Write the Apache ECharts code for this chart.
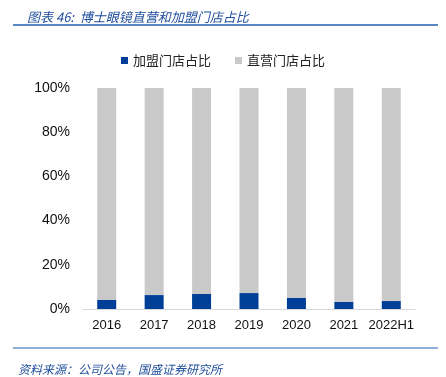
<!DOCTYPE html>
<html>
<head>
<meta charset="utf-8">
<script src="https://cdn.jsdelivr.net/npm/echarts@6/dist/echarts.min.js"></script>
<style>
  html, body { margin: 0; padding: 0; background: #fff; }
  #chart { width: 446px; height: 377px; }
</style>
</head>
<body>
<div id="chart"></div>
<script>
const categories = ["2016", "2017", "2018", "2019", "2020", "2021", "2022H1"];
// 加盟门店占比 (%)
const franchise = [4.2, 6.3, 6.8, 7.2, 5.1, 3.3, 3.6];
// 直营门店占比 = 100 - 加盟
const direct = [95.8, 93.7, 93.2, 92.8, 94.9, 96.7, 96.4];
const yTicks = [0, 20, 40, 60, 80, 100];

const chart = echarts.init(document.getElementById("chart"));
const cjk = "'Noto Sans CJK SC', sans-serif";

chart.setOption({
  animation: false,
  title: [
    {
      text: "图表 46:  博士眼镜直营和加盟门店占比",
      left: 22,
      top: 6,
      textStyle: {
        color: "#1f4e9c",
        fontSize: 13,
        fontWeight: "normal",
        fontStyle: "italic",
        fontFamily: cjk
      }
    },
    {
      text: "资料来源：公司公告，国盛证券研究所",
      left: 13,
      top: 358,
      textStyle: {
        color: "#1f4e9c",
        fontSize: 12,
        fontWeight: "normal",
        fontStyle: "italic",
        fontFamily: cjk
      }
    }
  ],
  graphic: [
    {
      type: "line",
      shape: { x1: 13, y1: 25, x2: 438, y2: 25 },
      style: { stroke: "#1f5fae", lineWidth: 1.5 }
    },
    {
      type: "line",
      shape: { x1: 13, y1: 348, x2: 438, y2: 348 },
      style: { stroke: "#1f5fae", lineWidth: 1 }
    }
  ],
  legend: {
    top: 49,
    left: "center",
    itemWidth: 7,
    itemHeight: 7,
    itemGap: 24,
    icon: "rect",
    textStyle: { fontSize: 13, color: "#222", fontFamily: cjk },
    data: ["加盟门店占比", "直营门店占比"]
  },
  grid: { left: 83, right: 31, top: 88, bottom: 68 },
  xAxis: {
    type: "category",
    data: categories,
    axisLine: { lineStyle: { color: "#d9d9d9" } },
    axisTick: { show: false },
    axisLabel: {
      interval: 0,
      color: "#111",
      fontSize: 13,
      margin: 10,
      fontFamily: "'Liberation Sans', sans-serif"
    }
  },
  yAxis: {
    type: "value",
    min: yTicks[0],
    max: yTicks[yTicks.length - 1],
    interval: 20,
    axisLine: { show: false },
    axisTick: { show: false },
    splitLine: { show: false },
    axisLabel: {
      color: "#111",
      fontSize: 14,
      margin: 13,
      fontFamily: "'Liberation Sans', sans-serif",
      formatter: "{value}%"
    }
  },
  series: [
    {
      name: "加盟门店占比",
      type: "bar",
      stack: "total",
      barWidth: 19,
      data: franchise,
      itemStyle: { color: "#003f97" }
    },
    {
      name: "直营门店占比",
      type: "bar",
      stack: "total",
      barWidth: 19,
      data: direct,
      itemStyle: { color: "#c9c9c9" }
    }
  ]
});
</script>
</body>
</html>
